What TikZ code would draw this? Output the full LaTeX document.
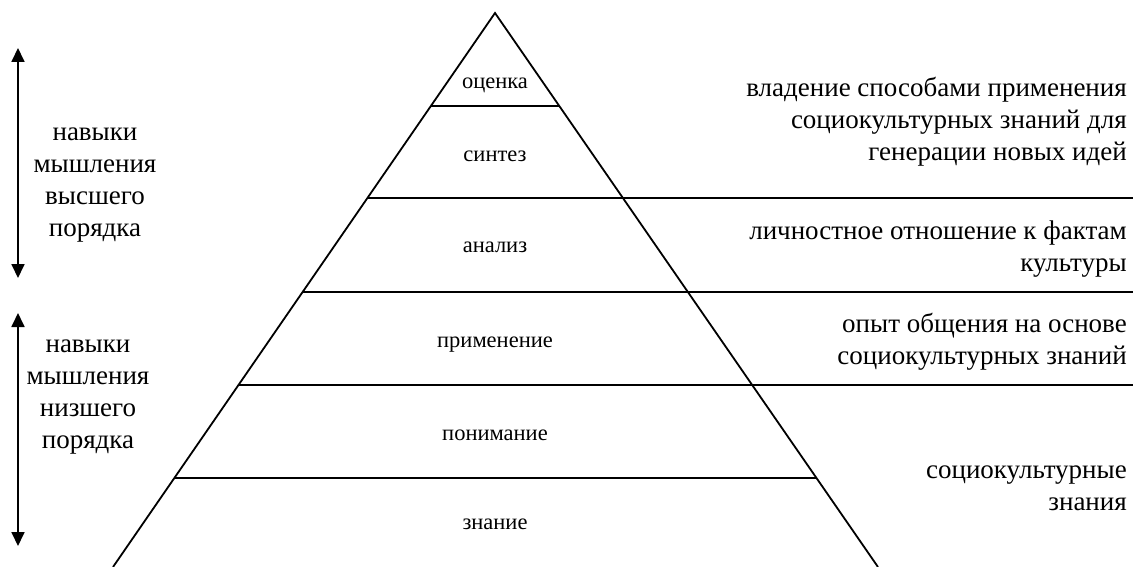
\documentclass[tikz,border=0pt]{standalone}
\usepackage{fontspec}
\setmainfont{Liberation Serif}
\usetikzlibrary{calc,arrows.meta}
\begin{document}
\begin{tikzpicture}[x=1pt,y=-1pt,
  edge/.style={line width=1.8pt},
  level/.style={inner sep=0pt,anchor=base,font=\fontsize{22.5}{26}\selectfont},
  side/.style={inner sep=0pt,font=\fontsize{27}{32}\selectfont},
  dblarrow/.style={line width=1.8pt,{Triangle[width=13pt,length=14pt]}-{Triangle[width=13pt,length=14pt]}}]
\useasboundingbox (0,0) rectangle (1133,567);
\coordinate (A) at (495,13);
\coordinate (BL) at (113,567);
\coordinate (BR) at (878,567);
% level boundaries
\foreach \n/\t in {1/0.1679,2/0.3339,3/0.5036,4/0.6715,5/0.8394}{
  \coordinate (L\n) at ($(A)!\t!(BL)$);
  \coordinate (R\n) at ($(A)!\t!(BR)$);
}
\coordinate (E2) at (1133,198);
\coordinate (E3) at (1133,292);
\coordinate (E4) at (1133,385);
\draw[edge] (BL) -- (A) -- (BR);
\draw[edge] (L1) -- (R1);
\draw[edge] (L2) -- (E2);
\draw[edge] (L3) -- (E3);
\draw[edge] (L4) -- (E4);
\draw[edge] (L5) -- (R5);
% pyramid labels
\node[level] (t1) at (495,89) {оценка};
\node[level] (t2) at (495,161) {синтез};
\node[level] (t3) at (495,252) {анализ};
\node[level] (t4) at (495,347) {применение};
\node[level] (t5) at (495,440) {понимание};
\node[level] (t6) at (495,529) {знание};
% right texts
\node[side,align=right,anchor=east] (r1) at (1127,122) {владение способами применения\\социокультурных знаний для\\генерации новых идей};
\node[side,align=right,anchor=east] (r2) at (1127,249) {личностное отношение к фактам\\культуры};
\node[side,align=right,anchor=east] (r3) at (1127,342) {опыт общения на основе\\социокультурных знаний};
\node[side,align=right,anchor=east] (r4) at (1127,488) {социокультурные\\знания};
% left texts
\node[side,align=center] (l1) at (95,185) {навыки\\мышления\\высшего\\порядка};
\node[side,align=center] (l2) at (88,397) {навыки\\мышления\\низшего\\порядка};
% arrows
\coordinate (u1) at (18,48);
\coordinate (u2) at (18,278);
\coordinate (d1) at (18,313);
\coordinate (d2) at (18,546);
\draw[dblarrow] (u1) -- (u2);
\draw[dblarrow] (d1) -- (d2);
\end{tikzpicture}
\end{document}
